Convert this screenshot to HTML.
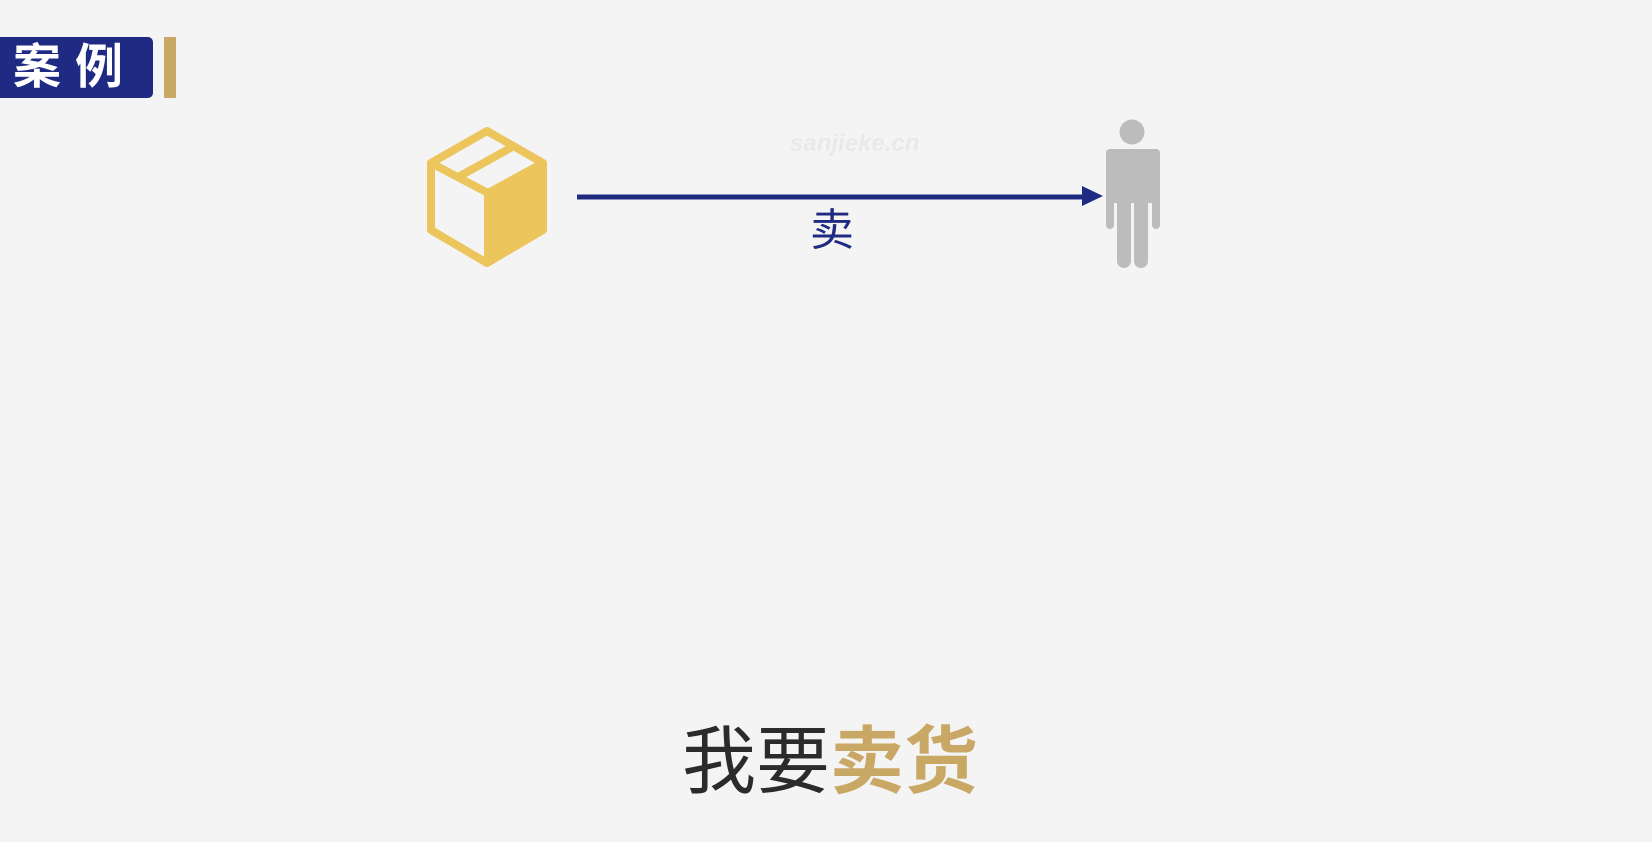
<!DOCTYPE html>
<html><head><meta charset="utf-8"><style>
html,body{margin:0;padding:0;}
body{width:1652px;height:842px;background:#f4f4f4;position:relative;overflow:hidden;font-family:"Liberation Sans","Noto Sans CJK SC",sans-serif;}
.tag{position:absolute;left:0;top:37px;width:153px;height:61px;background:#1f2b82;border-radius:0 5px 5px 0;color:#fff;font-weight:bold;font-size:48px;line-height:61px;padding-left:13px;box-sizing:border-box;letter-spacing:14px;white-space:nowrap;}
.bar{position:absolute;left:164px;top:37px;width:12px;height:61px;background:#c9a865;}
.lbl{position:absolute;left:810px;top:204px;font-size:44px;color:#1f2b82;line-height:54px;}
.cap{position:absolute;left:682px;top:712px;font-size:74px;line-height:100px;color:#2b2b2b;white-space:nowrap;}
.cap span{color:#c9a865;font-weight:bold;}
.wm{position:absolute;left:790px;top:130px;font-size:24px;color:#e9e9e9;font-style:italic;font-weight:bold;}
</style></head><body>
<div class="tag">案例</div>
<div class="bar"></div>
<div class="wm">sanjieke.cn</div>
<svg width="1652" height="842" style="position:absolute;left:0;top:0">
  <g fill="none" stroke="#ecc55c" stroke-width="8" stroke-linejoin="round">
    <polygon points="487,131 543,163 543,230 487,263 431,230 431,163"/>
    <polyline points="431,163 488,193 543,163"/>
    <line x1="488" y1="193" x2="488" y2="263"/>
    <line x1="460" y1="176" x2="514" y2="146"/>
  </g>
  <polygon points="488,193 543,163 543,230 488,263" fill="#ecc55c"/>
  <line x1="577" y1="197" x2="1086" y2="197" stroke="#1f2b82" stroke-width="5"/>
  <polygon points="1082,186 1103,196 1082,206" fill="#1f2b82"/>
  <g fill="#bcbcbd">
    <circle cx="1132" cy="132" r="12.5"/>
    <rect x="1106" y="149" width="54" height="54" rx="5"/>
    <rect x="1106" y="149" width="8" height="80" rx="4"/>
    <rect x="1152" y="149" width="8" height="80" rx="4"/>
    <rect x="1117" y="190" width="14" height="78" rx="7"/>
    <rect x="1134" y="190" width="14" height="78" rx="7"/>
  </g>
</svg>
<div class="lbl">卖</div>
<div class="cap">我要<span>卖货</span></div>
</body></html>
